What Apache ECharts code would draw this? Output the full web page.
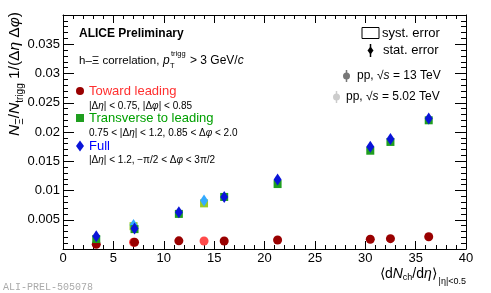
<!DOCTYPE html>
<html><head><meta charset="utf-8">
<script src="https://cdn.jsdelivr.net/npm/echarts@6/dist/echarts.min.js"></script>
<style>html,body{margin:0;padding:0;background:#fff}#c{width:491px;height:293px}</style>
</head><body><div id="c"></div>
<script>
// ---- data ----
const xTickLabels = ['0','5','10','15','20','25','30','35','40'];
const yTickLabels = ['0.005','0.01','0.015','0.02','0.025','0.03','0.035'];

const mult13 = [3.3, 7.1, 11.5, 16.0, 21.3, 30.5, 32.5, 36.3];
const toward13 = [0.0008, 0.00115, 0.0014, 0.00137, 0.00154, 0.00166, 0.00177, 0.0021];
const transverse13 = [0.0017, 0.0034, 0.0060, 0.0089, 0.0111, 0.0168, 0.0183, 0.0220];
const full13 = [0.0022, 0.0035, 0.0063, 0.0089, 0.0119, 0.0175, 0.0188, 0.0223];
const statToward13 = [0.0001, 0.0001, 0.0001, 0.0001, 0.0001, 0.0001, 0.0001, 0.0001];
const statTransverse13 = [0.0004, 0.0004, 0.0004, 0.0004, 0.0004, 0.0005, 0.0005, 0.0005];
const statFull13 = [0.0004, 0.0004, 0.0004, 0.0004, 0.0004, 0.0005, 0.0005, 0.0005];

const mult502 = [7.0, 14.0];
const toward502 = [0.00115, 0.00137];
const transverse502 = [0.0039, 0.0078];
const full502 = [0.0041, 0.0083];
const statToward502 = [0.0001, 0.0001];
const statTransverse502 = [0.0004, 0.0004];
const statFull502 = [0.0004, 0.0004];

const FONT = 'Liberation Sans, Arial, Helvetica, sans-serif';
const C = {
  darkRed: '#990000', lightRed: '#ff4a4a',
  green: '#1f9e1f', yellowGreen: '#99cc22',
  blue: '#0a14d8', lightBlue: '#33aaff'
};

function pts(xs, ys) { return xs.map((x, i) => [x, ys[i]]); }
function errPts(xs, ys, es) { return xs.map((x, i) => [x, ys[i], es[i]]); }

function errSeries(xs, ys, es, color) {
  return {
    type: 'custom', silent: true, z: 2,
    data: errPts(xs, ys, es),
    renderItem: function (params, api) {
      const x = api.value(0), y = api.value(1), e = api.value(2);
      const p1 = api.coord([x, y - e]), p2 = api.coord([x, y + e]);
      return { type: 'line', shape: { x1: p1[0], y1: p1[1], x2: p2[0], y2: p2[1] },
        style: { stroke: color, lineWidth: 2 } };
    }
  };
}
function scat(xs, ys, symbol, size, color, z) {
  return { type: 'scatter', data: pts(xs, ys), symbol: symbol, symbolSize: size,
    itemStyle: { color: color, opacity: 1 }, z: z, silent: true };
}

const chart = echarts.init(document.getElementById('c'), null, { renderer: 'canvas' });

const axisCommonX = {
  type: 'value', min: 0, max: 40, interval: 5,
  axisLine: { show: true, onZero: false, lineStyle: { color: '#000', width: 1 } },
  axisTick: { show: true, inside: true, length: 8, lineStyle: { color: '#000' } },
  minorTick: { show: true, splitNumber: 5, length: 4, lineStyle: { color: '#000' } },
  splitLine: { show: false }, minorSplitLine: { show: false }
};
const axisCommonY = {
  type: 'value', min: 0, max: 0.04, interval: 0.005,
  axisLine: { show: true, onZero: false, lineStyle: { color: '#000', width: 1 } },
  axisTick: { show: true, inside: true, length: 11, lineStyle: { color: '#000' } },
  minorTick: { show: true, splitNumber: 5, length: 5, lineStyle: { color: '#000' } },
  splitLine: { show: false }, minorSplitLine: { show: false }
};

const option = {
  animation: false,
  backgroundColor: '#fff',
  grid: { left: 63, right: 25, top: 15, bottom: 44, containLabel: false },
  xAxis: [
    Object.assign({}, axisCommonX, { position: 'bottom',
      axisLabel: { show: true, margin: 3, color: '#000', fontSize: 13, fontFamily: FONT,
        formatter: v => { const s = String(Math.round(v)); return xTickLabels.includes(s) ? s : ''; } } }),
    Object.assign({}, axisCommonX, { position: 'top', axisLabel: { show: false } })
  ],
  yAxis: [
    Object.assign({}, axisCommonY, { position: 'left',
      axisLabel: { show: true, margin: 3, color: '#000', fontSize: 13, fontFamily: FONT,
        formatter: v => { const s = String(+v.toFixed(3)); return yTickLabels.includes(s) ? s : ''; } } }),
    Object.assign({}, axisCommonY, { position: 'right', axisLabel: { show: false } })
  ],
  series: [
    errSeries(mult502, toward502, statToward502, C.lightRed),
    scat(mult502, toward502, 'circle', 9, C.lightRed, 3),
    errSeries(mult502, transverse502, statTransverse502, C.yellowGreen),
    scat(mult502, transverse502, 'rect', 8, C.yellowGreen, 3),
    errSeries(mult502, full502, statFull502, C.lightBlue),
    scat(mult502, full502, 'diamond', [8, 12], C.lightBlue, 3),
    errSeries(mult13, toward13, statToward13, C.darkRed),
    scat(mult13, toward13, 'circle', 9, C.darkRed, 4),
    errSeries(mult13, transverse13, statTransverse13, C.green),
    scat(mult13, transverse13, 'rect', 8, C.green, 4),
    errSeries(mult13, full13, statFull13, C.blue),
    scat(mult13, full13, 'diamond', [8, 12], C.blue, 5)
  ],
  graphic: [
    // y-axis title
    { type: 'text', x: 15, y: 12, rotation: Math.PI / 2, silent: true,
      style: { text: '{i|N}{sub|Ξ}/{i|N}{sub|trigg} 1/(Δ{i|η} Δ{i|φ})',
        fontSize: 15.5, fontFamily: FONT, fill: '#000', lineHeight: 20,
        align: 'right', verticalAlign: 'middle',
        rich: {
          i: { fontStyle: 'italic', fontSize: 15.5, fontFamily: FONT, lineHeight: 20 },
          sub: { fontSize: 10, fontFamily: FONT, lineHeight: 10, verticalAlign: 'bottom' }
        } } },
    // x-axis title
    { type: 'text', x: 466, y: 274, silent: true,
      style: { text: '⟨d{i|N}{ch|ch}/d{i|η}⟩{sub|\u2009|η|<0.5}',
        fontSize: 14, fontFamily: FONT, fill: '#000', lineHeight: 24,
        align: 'right', verticalAlign: 'middle',
        rich: {
          i: { fontStyle: 'italic', fontSize: 14, fontFamily: FONT, lineHeight: 24 },
          ch: { fontSize: 9, fontFamily: FONT, lineHeight: 9, padding: [7, 0, 0, 0], verticalAlign: 'middle' },
          sub: { fontSize: 9, fontFamily: FONT, lineHeight: 9, verticalAlign: 'bottom' }
        } } },
    // texts in plot
    { type: 'text', x: 79, y: 34, silent: true,
      style: { text: 'ALICE Preliminary', fontSize: 12, fontWeight: 'bold', fontFamily: FONT, fill: '#000', verticalAlign: 'middle' } },
    { type: 'text', x: 79, y: 61, silent: true,
      style: { text: 'h–Ξ correlation,', fontSize: 11.5, fontFamily: FONT, fill: '#000', verticalAlign: 'middle' } },
    { type: 'text', x: 163, y: 61, silent: true,
      style: { text: 'p', fontSize: 12, fontStyle: 'italic', fontFamily: FONT, fill: '#000', verticalAlign: 'middle' } },
    { type: 'text', x: 170, y: 66, silent: true,
      style: { text: 'T', fontSize: 7.5, fontFamily: FONT, fill: '#000', verticalAlign: 'middle' } },
    { type: 'text', x: 171, y: 54, silent: true,
      style: { text: 'trigg', fontSize: 7.5, fontFamily: FONT, fill: '#000', verticalAlign: 'middle' } },
    { type: 'text', x: 190, y: 61, silent: true,
      style: { text: '> 3 GeV/{i|c}', fontSize: 12, fontFamily: FONT, fill: '#000', verticalAlign: 'middle',
        rich: { i: { fontStyle: 'italic', fontSize: 12, fontFamily: FONT } } } },

    { type: 'circle', shape: { cx: 80, cy: 91, r: 4 }, style: { fill: C.darkRed }, silent: true },
    { type: 'text', x: 89, y: 91, silent: true,
      style: { text: 'Toward leading', fontSize: 13, fontFamily: FONT, fill: '#ff3030', verticalAlign: 'middle' } },
    { type: 'text', x: 89, y: 106, silent: true,
      style: { text: '|Δ{i|η}| < 0.75, |Δ{i|φ}| < 0.85', fontSize: 10, fontFamily: FONT, fill: '#000', verticalAlign: 'middle',
        rich: { i: { fontStyle: 'italic', fontSize: 10, fontFamily: FONT } } } },
    { type: 'rect', shape: { x: 76, y: 114, width: 8, height: 8 }, style: { fill: C.green }, silent: true },
    { type: 'text', x: 89, y: 118.5, silent: true,
      style: { text: 'Transverse to leading', fontSize: 13, fontFamily: FONT, fill: '#00a000', verticalAlign: 'middle' } },
    { type: 'text', x: 89, y: 133, silent: true,
      style: { text: '0.75 < |Δ{i|η}| < 1.2, 0.85 < Δ{i|φ} < 2.0', fontSize: 10, fontFamily: FONT, fill: '#000', verticalAlign: 'middle',
        rich: { i: { fontStyle: 'italic', fontSize: 10, fontFamily: FONT } } } },
    { type: 'polygon', shape: { points: [[80, 140.5], [84, 146], [80, 151.5], [76, 146]] }, style: { fill: C.blue }, silent: true },
    { type: 'text', x: 89, y: 146, silent: true,
      style: { text: 'Full', fontSize: 13, fontFamily: FONT, fill: '#0000ff', verticalAlign: 'middle' } },
    { type: 'text', x: 89, y: 160, silent: true,
      style: { text: '|Δ{i|η}| < 1.2, −π/2 < Δ{i|φ} < 3π/2', fontSize: 10, fontFamily: FONT, fill: '#000', verticalAlign: 'middle',
        rich: { i: { fontStyle: 'italic', fontSize: 10, fontFamily: FONT } } } },

    // right legend
    { type: 'rect', shape: { x: 362, y: 27.5, width: 17, height: 11 }, style: { fill: 'none', stroke: '#000', lineWidth: 1 }, silent: true },
    { type: 'text', x: 382, y: 33, silent: true,
      style: { text: 'syst. error', fontSize: 13, fontFamily: FONT, fill: '#000', verticalAlign: 'middle' } },
    { type: 'line', shape: { x1: 370.5, y1: 44, x2: 370.5, y2: 57 }, style: { stroke: '#000', lineWidth: 1.5 }, silent: true },
    { type: 'polygon', shape: { points: [[370.5, 46.5], [373.5, 50.5], [370.5, 54.5], [367.5, 50.5]] }, style: { fill: '#000' }, silent: true },
    { type: 'text', x: 383, y: 50.5, silent: true,
      style: { text: 'stat. error', fontSize: 13, fontFamily: FONT, fill: '#000', verticalAlign: 'middle' } },
    { type: 'line', shape: { x1: 346.5, y1: 70, x2: 346.5, y2: 82 }, style: { stroke: '#777', lineWidth: 1.5 }, silent: true },
    { type: 'circle', shape: { cx: 346.5, cy: 76, r: 3.5 }, style: { fill: '#777' }, silent: true },
    { type: 'text', x: 357, y: 76, silent: true,
      style: { text: 'pp, √{i|s} = 13 TeV', fontSize: 12, fontFamily: FONT, fill: '#000', verticalAlign: 'middle',
        rich: { i: { fontStyle: 'italic', fontSize: 12, fontFamily: FONT } } } },
    { type: 'line', shape: { x1: 336.5, y1: 91, x2: 336.5, y2: 103 }, style: { stroke: '#ccc', lineWidth: 1.5 }, silent: true },
    { type: 'circle', shape: { cx: 336.5, cy: 97, r: 3.5 }, style: { fill: '#ccc' }, silent: true },
    { type: 'text', x: 346, y: 97, silent: true,
      style: { text: 'pp, √{i|s} = 5.02 TeV', fontSize: 12, fontFamily: FONT, fill: '#000', verticalAlign: 'middle',
        rich: { i: { fontStyle: 'italic', fontSize: 12, fontFamily: FONT } } } },

    // watermark
    { type: 'text', x: 3, y: 287, silent: true,
      style: { text: 'ALI-PREL-505078', fontSize: 10, fontFamily: 'Liberation Mono, DejaVu Sans Mono, monospace', fill: '#aaa', verticalAlign: 'middle' } }
  ]
};
chart.setOption(option);
</script>
</body></html>
